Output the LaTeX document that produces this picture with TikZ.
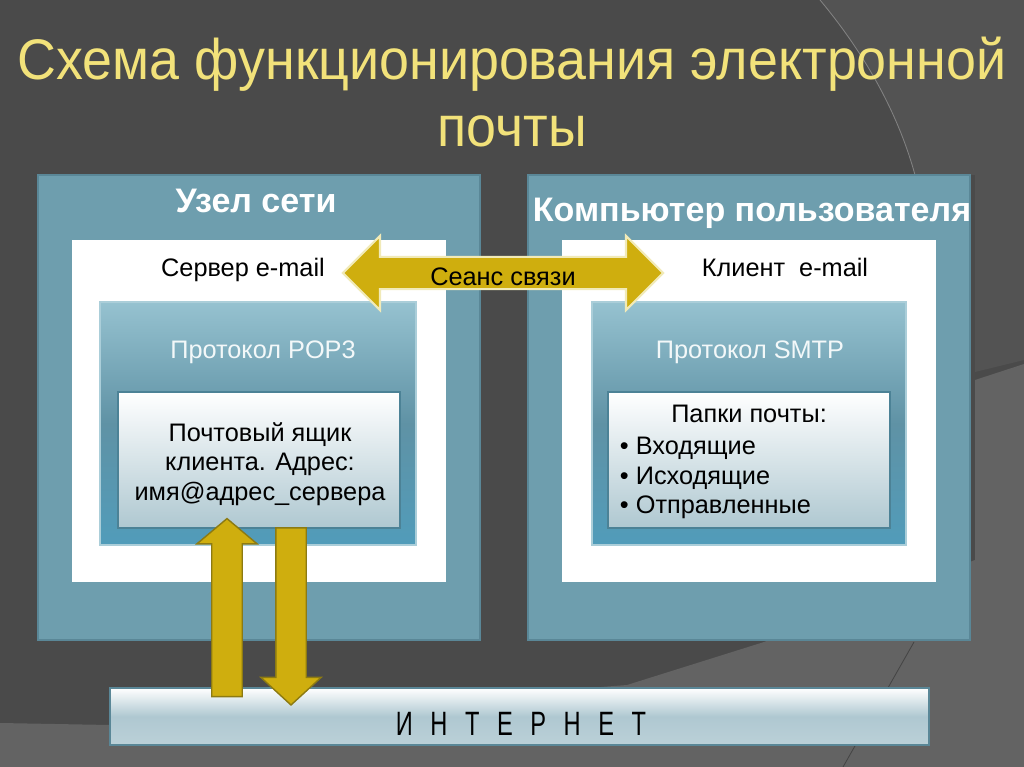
\documentclass[tikz,border=0pt]{standalone}
\usepackage{fontspec}
\setmainfont{Liberation Sans}
\newfontfamily\narrowfont[FakeStretch=0.94]{Liberation Sans}
\newfontfamily\netfont[FakeStretch=0.7]{Liberation Sans}
\usetikzlibrary{positioning, shapes.arrows}
\definecolor{bgdark}{HTML}{4A4A4A}
\definecolor{bgmid}{HTML}{535353}
\definecolor{bglight}{HTML}{636363}
\definecolor{titleyel}{HTML}{F2E27A}
\definecolor{boxteal}{HTML}{6E9EAE}
\definecolor{boxrim}{HTML}{5A8797}
\definecolor{prtop}{HTML}{96C2D0}
\definecolor{prmid}{HTML}{5F92A5}
\definecolor{prbot}{HTML}{519CBA}
\definecolor{mbrim}{HTML}{4C8296}
\definecolor{mbbot}{HTML}{AFC8D1}
\definecolor{gold}{HTML}{CFAE0E}
\definecolor{goldrim}{HTML}{8C7A12}
\definecolor{goldglow}{HTML}{F1EAB8}
\tikzset{
  outerbox/.style={draw=boxrim, line width=1.5pt, fill=boxteal, minimum width=11.05cm, minimum height=11.625cm},
  whitebox/.style={fill=white, minimum width=9.35cm, minimum height=8.55cm},
  protobox/.style={draw=prtop!80!white, line width=0.8pt, top color=prtop, bottom color=prbot, middle color=prmid, minimum height=6.075cm},
  mailbox/.style={draw=mbrim, line width=2pt, top color=white, bottom color=mbbot, minimum width=7.05cm, minimum height=3.4cm},
  headlbl/.style={font=\bfseries\fontsize{24.2}{27}\selectfont, text=white, anchor=base},
  vertarrow/.style={single arrow, fill=gold, draw=goldrim, line width=1pt, inner xsep=0pt, inner ysep=0.3625cm, single arrow head extend=0.375cm}
}
\begin{document}
\begin{tikzpicture}[x=0.025cm, y=-0.025cm, font=\fontsize{18}{21}\selectfont]
    \useasboundingbox (0,0) rectangle (1024,767);
    % slide background
    \fill[bgdark] (0,0) rectangle (1024,767);
    \fill[bgmid] (820,0) .. controls (870,60) and (900,120) .. (915,175) -- (975,175) -- (975,372) -- (1024,360) -- (1024,0) -- cycle;
    \fill[bglight] (0,723) -- (110,725) -- (627,685) -- (764,642) -- (975,560) -- (975,380) -- (1024,364) -- (1024,767) -- (0,767) -- cycle;
    \draw[bglight!80!white, line width=0.6pt] (820,0) .. controls (870,60) and (900,120) .. (915,175);
    \draw[bglight!70!black, line width=0.6pt] (914,642) -- (843,767);

    \node[font=\narrowfont\fontsize{40.7}{47}\selectfont, text=titleyel, align=center] (title) at (512,92) {Схема функционирования электронной\\почты};

    % left: network node
    \node[outerbox] (host) at (259,407.5) {};
    \node[whitebox] (srvarea) at (259,411) {};
    \node[protobox, minimum width=7.9cm] (pop) at (258,423.5) {};
    \node[mailbox] (mbox) at (259,460) {};
    \node[headlbl] (hostlbl) at (256,213) {Узел сети};
    \node[anchor=base] (srv) at (243,277) {Сервер e-mail};
    \node[text=white!88!prtop, anchor=base] (poplbl) at (263,358) {Протокол POP3};
    \node[align=center, font=\fontsize{18}{21}\selectfont] (mboxtxt) at (260,464) {Почтовый ящик\\клиента. Адрес:\\имя@адрес\_сервера};

    % right: user computer
    \node[outerbox] (user) at (749,407.5) {};
    \node[whitebox] (cliarea) at (749,411) {};
    \node[protobox, minimum width=7.85cm] (smtp) at (749,423.5) {};
    \node[mailbox] (folders) at (749,460) {};
    \node[headlbl] (userlbl) at (752,222) {Компьютер пользователя};
    \node[anchor=base] (cli) at (785,277) {Клиент \ e-mail};
    \node[text=white!88!prtop, anchor=base] (smtplbl) at (750,358) {Протокол SMTP};
    \node[anchor=base] (foldtitle) at (749,422) {Папки почты:};
    \node[align=left, anchor=west, font=\fontsize{18}{21}\selectfont] (foldlist) at (615,478) {• Входящие\\• Исходящие\\• Отправленные};

    % internet bar
    \node[draw=boxrim, line width=1.2pt, top color=white, bottom color=mbbot!85!white, middle color=mbbot, minimum width=20.475cm, minimum height=1.425cm] (net) at (519.5,716.5) {};
    \node[font=\netfont\fontsize{24}{26}\selectfont, anchor=base] (netlbl) at (521,735) {\spaceskip=12.5pt\relax И Н Т Е Р Н Е Т};

    % arrows
    \node[double arrow, fill=gold, draw=goldglow, line width=1.5pt, inner xsep=0pt, inner ysep=0.375cm, minimum height=8cm, double arrow head extend=0.525cm] (session) at (503,273) {};
    \node[anchor=base] (sessionlbl) at (503,285) {Сеанс связи};
    \node[vertarrow, rotate=90, minimum height=4.45cm, single arrow tip angle=100] (up) at (227,614) {};
    \node[vertarrow, rotate=-90, minimum height=4.425cm, single arrow tip angle=95] (down) at (291,609.5) {};
  \end{tikzpicture}
\end{document}
